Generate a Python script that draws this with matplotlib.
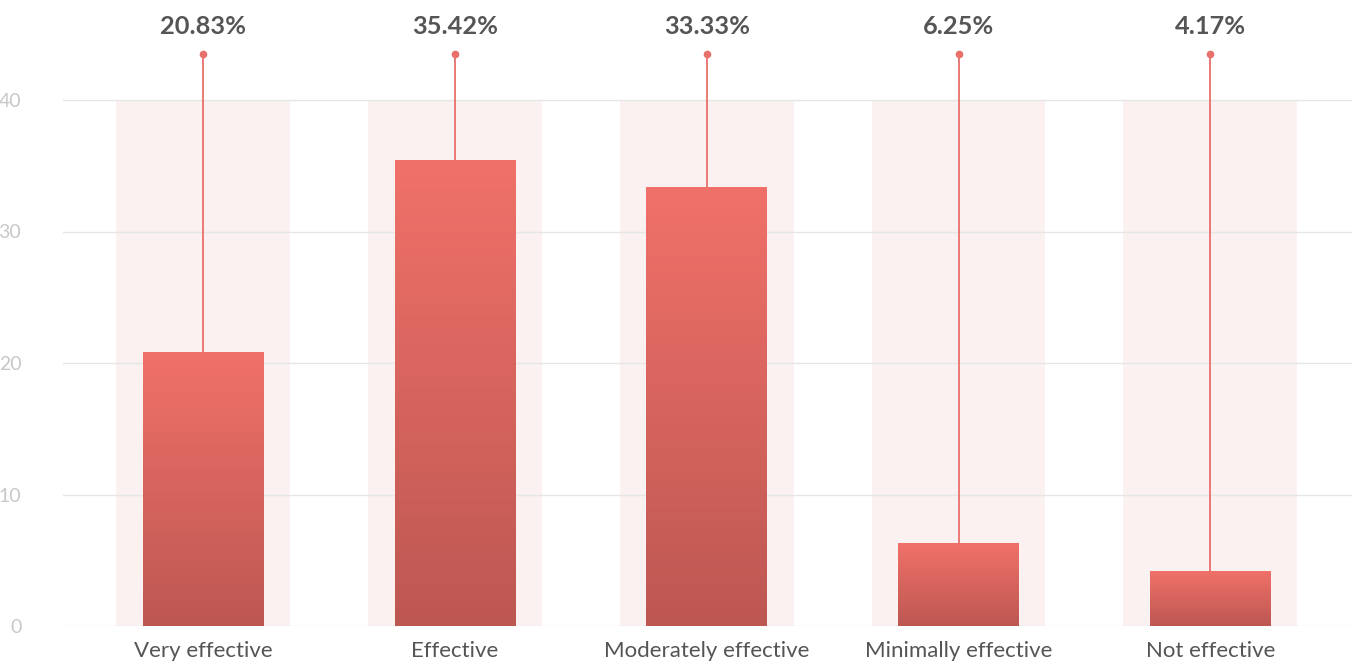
import matplotlib.pyplot as plt
import numpy as np
from matplotlib.colors import LinearSegmentedColormap

# Chart data.
categories = ["Very effective", "Effective", "Moderately effective", "Minimally effective", "Not effective"]
values = [20.83, 35.42, 33.33, 6.25, 4.17]
labels = ["20.83%", "35.42%", "33.33%", "6.25%", "4.17%"]
yticks = [0, 10, 20, 30, 40]
band_top = 40
stem_top = 43.5
label_y = 45.6

plt.rcParams['font.family'] = ['Lato', 'DejaVu Sans']

fig = plt.figure(figsize=(13.52, 6.62), dpi=100)
ax = fig.add_axes([63 / 1352, 36 / 662, 1 - 63 / 1352, 626 / 662])

# Gradient from dark (bottom) to light (top).
cmap = LinearSegmentedColormap.from_list("bar", ["#bd5752", "#f07169"])
grad = np.linspace(0, 1, 256).reshape(-1, 1)

# Light background bands behind every bar.
ax.bar(range(len(categories)), [band_top] * len(categories), width=0.69,
       color="#faeeee", alpha=0.8, zorder=1)

for i, v in enumerate(values):
    # Gradient fill within the bar rectangle.
    ax.imshow(grad, cmap=cmap, origin="lower", aspect="auto",
              extent=(i - 0.24, i + 0.24, 0, v), zorder=3)
    # Stem from bar top to marker dot.
    ax.plot([i, i], [v, stem_top], color="#e8706a", lw=1.3, zorder=4)
    ax.plot(i, stem_top, "o", color="#e8706a", ms=4.5, zorder=4)
    ax.text(i, label_y, labels[i], ha="center", va="center",
            fontsize=18.3, fontweight="bold", color="#555555")

ax.set_xlim(-0.557, 4.563)
ax.set_ylim(0, 626 / 13.15)

# Horizontal grid lines.
for t in yticks:
    ax.axhline(t, color="#e6e6e6", lw=1, zorder=2)

ax.set_yticks(yticks)
ax.set_xticks(range(len(categories)))
ax.set_xticklabels(categories, fontsize=16, color="#555555")
ax.tick_params(axis="y", length=0, labelsize=14, labelcolor="#c8c8c8", pad=30)
ax.tick_params(axis="x", length=0, pad=11)
for s in ax.spines.values():
    s.set_visible(False)

fig.savefig("out.png", dpi=100)
